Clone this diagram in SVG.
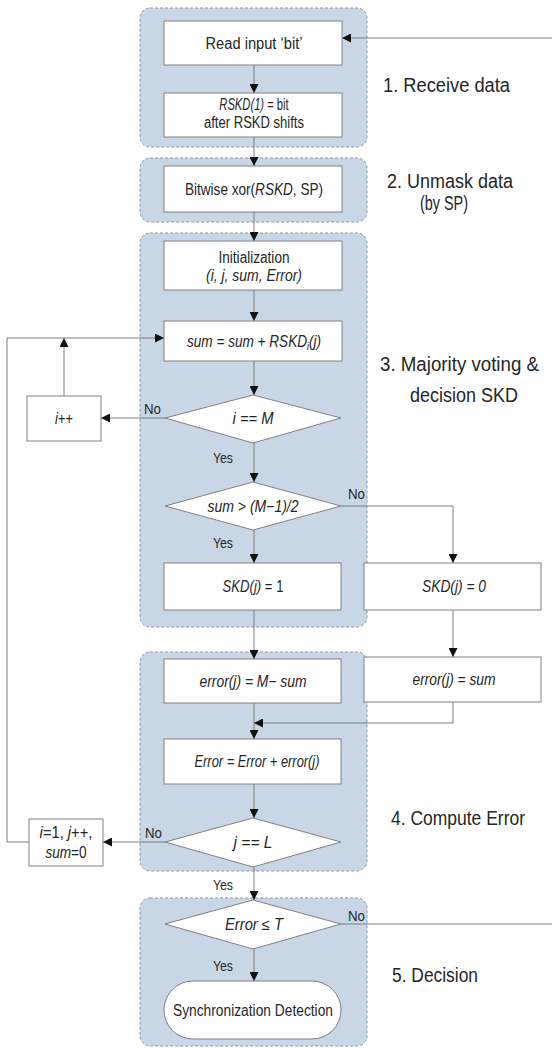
<svg xmlns="http://www.w3.org/2000/svg" width="552" height="1048" viewBox="0 0 552 1048">
  <style>
    .panel { fill: #c9d6e6; stroke: #8e98a4; stroke-width: 1; stroke-dasharray: 3 2; }
    .box { fill: #ffffff; stroke: #808080; stroke-width: 1; }
    .wire { fill: none; stroke: #7c7c7c; stroke-width: 1; }
    .arrow { marker-end: url(#head); }
    text { font-family: "Liberation Sans", Arial, sans-serif; fill: #262626; }
    .t { font-size: 16px; text-anchor: middle; }
    .lbl { font-size: 14px; }
    .step { font-size: 20px; }
    .it { font-style: italic; }
  </style>
  <defs>
    <marker id="head" markerWidth="9" markerHeight="9" refX="9" refY="4.5" orient="auto" markerUnits="userSpaceOnUse">
      <path d="M0,0 L9,4.5 L0,9 z" fill="#111"/>
    </marker>
  </defs>

  <rect width="552" height="1048" fill="#ffffff"/>

  <!-- stage panels -->
  <g id="stages">
    <rect class="panel" x="140" y="8" width="227" height="139" rx="10"/>
    <rect class="panel" x="140" y="158" width="227" height="64" rx="10"/>
    <rect class="panel" x="140" y="233" width="227" height="394" rx="10"/>
    <rect class="panel" x="140" y="652" width="227" height="219" rx="10"/>
    <rect class="panel" x="140" y="898" width="227" height="148" rx="10"/>
  </g>

  <!-- stage captions -->
  <g id="captions">
    <text class="step" x="383" y="92" textLength="127" lengthAdjust="spacingAndGlyphs">1. Receive data</text>
    <text class="step" x="387" y="188" textLength="126" lengthAdjust="spacingAndGlyphs">2. Unmask data</text>
    <text class="step" x="420" y="210" textLength="48" lengthAdjust="spacingAndGlyphs">(by SP)</text>
    <text class="step" x="380" y="371" textLength="159" lengthAdjust="spacingAndGlyphs">3. Majority voting &amp;</text>
    <text class="step" x="410" y="402" textLength="108" lengthAdjust="spacingAndGlyphs">decision SKD</text>
    <text class="step" x="391" y="825" textLength="134" lengthAdjust="spacingAndGlyphs">4. Compute Error</text>
    <text class="step" x="392" y="982" textLength="86" lengthAdjust="spacingAndGlyphs">5. Decision</text>
  </g>

  <!-- connectors -->
  <g id="connectors">
    <path class="wire arrow" d="M552,38 H342"/>
    <path class="wire arrow" d="M254,65 V93"/>
    <path class="wire arrow" d="M254,137 V166"/>
    <path class="wire arrow" d="M254,212 V241"/>
    <path class="wire arrow" d="M254,290 V321"/>
    <path class="wire arrow" d="M254,361 V395"/>
    <path class="wire arrow" d="M165,418 H101"/>
    <path class="wire arrow" d="M64,396 V338"/>
    <path class="wire arrow" d="M29,842 H7 V338 H164"/>
    <path class="wire arrow" d="M254,443 V482"/>
    <path class="wire arrow" d="M341,506 H453 V563"/>
    <path class="wire arrow" d="M254,530 V563"/>
    <path class="wire arrow" d="M254,610 V659"/>
    <path class="wire arrow" d="M453,610 V657"/>
    <path class="wire arrow" d="M254,703 V739"/>
    <path class="wire arrow" d="M453,702 V723 H254"/>
    <path class="wire arrow" d="M254,784 V818"/>
    <path class="wire arrow" d="M165,842 H103"/>
    <path class="wire arrow" d="M254,867 V900"/>
    <path class="wire" d="M341,924 H552"/>
    <path class="wire arrow" d="M254,949 V981"/>

    <text class="lbl" x="144" y="414" textLength="17" lengthAdjust="spacingAndGlyphs">No</text>
    <text class="lbl" x="213" y="463" textLength="20" lengthAdjust="spacingAndGlyphs">Yes</text>
    <text class="lbl" x="348" y="499" textLength="17" lengthAdjust="spacingAndGlyphs">No</text>
    <text class="lbl" x="213" y="548" textLength="20" lengthAdjust="spacingAndGlyphs">Yes</text>
    <text class="lbl" x="145" y="838" textLength="17" lengthAdjust="spacingAndGlyphs">No</text>
    <text class="lbl" x="213" y="890" textLength="20" lengthAdjust="spacingAndGlyphs">Yes</text>
    <text class="lbl" x="348" y="921" textLength="17" lengthAdjust="spacingAndGlyphs">No</text>
    <text class="lbl" x="213" y="971" textLength="20" lengthAdjust="spacingAndGlyphs">Yes</text>
  </g>

  <g id="read-input">
    <rect class="box" x="164" y="21" width="178" height="44"/>
    <text class="t" x="254" y="49" textLength="97" lengthAdjust="spacingAndGlyphs">Read input ‘bit’</text>
  </g>

  <g id="shift-register">
    <rect class="box" x="164" y="93" width="178" height="44"/>
    <text class="t" transform="translate(254 110) scale(0.7 1)"><tspan class="it">RSKD(1)</tspan> = bit</text>
    <text class="t" x="254" y="128" textLength="100" lengthAdjust="spacingAndGlyphs">after RSKD shifts</text>
  </g>

  <g id="unmask">
    <rect class="box" x="164" y="166" width="178" height="46"/>
    <text class="t" transform="translate(254 195) scale(0.85 1)">Bitwise xor(<tspan class="it">RSKD</tspan>, SP)</text>
  </g>

  <g id="init">
    <rect class="box" x="164" y="241" width="178" height="49"/>
    <text class="t" x="254" y="263" textLength="71" lengthAdjust="spacingAndGlyphs">Initialization</text>
    <text class="t it" x="254" y="281" textLength="96" lengthAdjust="spacingAndGlyphs">(i, j, sum, Error)</text>
  </g>

  <g id="accumulate">
    <rect class="box" x="164" y="321" width="178" height="40"/>
    <text class="t it" transform="translate(254 347) scale(0.85 1)">sum = sum + RSKD<tspan font-size="10" dy="3">i</tspan><tspan dy="-3">(j)</tspan></text>
  </g>

  <g id="check-i">
    <polygon class="box" points="165,418 253,395 341,418 253,443"/>
    <text class="t it" x="253" y="424" textLength="41" lengthAdjust="spacingAndGlyphs">i == M</text>
  </g>

  <g id="inc-i">
    <rect class="box" x="27" y="396" width="74" height="45"/>
    <text class="t" transform="translate(64 424) scale(0.8 1)"><tspan class="it">i</tspan>++</text>
  </g>

  <g id="majority">
    <polygon class="box" points="165,506 253,482 341,506 253,530"/>
    <text class="t it" x="253" y="512" textLength="91" lengthAdjust="spacingAndGlyphs">sum &gt; (M−1)/2</text>
  </g>

  <g id="skd-one">
    <rect class="box" x="164" y="563" width="177" height="47"/>
    <text class="t" transform="translate(253 592) scale(0.82 1)"><tspan class="it">SKD(j)</tspan> = 1</text>
  </g>

  <g id="skd-zero">
    <rect class="box" x="364" y="563" width="177" height="47"/>
    <text class="t it" x="454" y="592" textLength="64" lengthAdjust="spacingAndGlyphs">SKD(j) = 0</text>
  </g>

  <g id="error-one">
    <rect class="box" x="164" y="659" width="177" height="44"/>
    <text class="t it" x="253" y="687" textLength="107" lengthAdjust="spacingAndGlyphs">error(j) = M− sum</text>
  </g>

  <g id="error-zero">
    <rect class="box" x="364" y="657" width="177" height="45"/>
    <text class="t it" x="454" y="685" textLength="83" lengthAdjust="spacingAndGlyphs">error(j) = sum</text>
  </g>

  <g id="total-error">
    <rect class="box" x="164" y="739" width="177" height="45"/>
    <text class="t it" x="257" y="767" textLength="125" lengthAdjust="spacingAndGlyphs">Error = Error + error(j)</text>
  </g>

  <g id="check-j">
    <polygon class="box" points="165,842 253,818 341,842 253,867"/>
    <text class="t it" x="253" y="848" textLength="39" lengthAdjust="spacingAndGlyphs">j == L</text>
  </g>

  <g id="next-j">
    <rect class="box" x="29" y="819" width="74" height="47"/>
    <text class="t" transform="translate(66 838) scale(0.92 1)"><tspan class="it">i</tspan>=1, <tspan class="it">j</tspan>++,</text>
    <text class="t" transform="translate(66 858) scale(0.85 1)"><tspan class="it">sum</tspan>=0</text>
  </g>

  <g id="threshold">
    <polygon class="box" points="165,924 253,900 341,924 253,949"/>
    <text class="t it" x="254" y="930" textLength="58" lengthAdjust="spacingAndGlyphs">Error ≤ T</text>
  </g>

  <g id="sync-detected">
    <rect class="box" x="164" y="981" width="177" height="58" rx="29"/>
    <text class="t" x="253" y="1016" textLength="160" lengthAdjust="spacingAndGlyphs">Synchronization Detection</text>
  </g>
</svg>
